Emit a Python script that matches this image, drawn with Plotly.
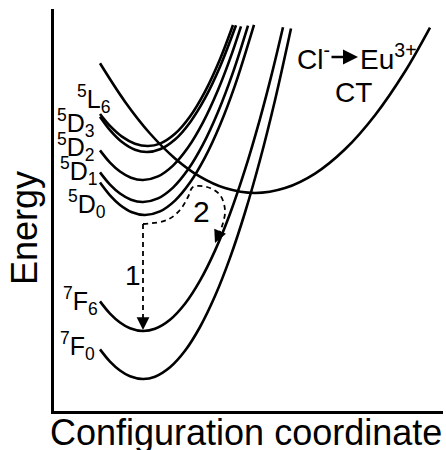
import plotly.graph_objects as go

# Configuration coordinate (X) and energy (E), arbitrary units
f0_x = [46, 56, 66, 76, 89, 101, 116, 131, 146, 161, 176, 191, 206, 221, 237]
f0_e = [61.6, 49.4, 40.5, 34.7, 32, 34.3, 43.7, 60.2, 84, 114.9, 153.1, 198.5, 251, 310.8, 382.5]
f6_x = [46, 56, 66, 76, 89, 101, 116, 131, 146, 161, 176, 191, 206, 218, 229]
f6_e = [109.6, 97.4, 88.5, 82.7, 80, 82.2, 91.3, 107.3, 130.4, 160.4, 197.3, 241.3, 292.2, 337.9, 383.8]
d0_x = [46, 56, 66, 78, 91, 106, 121, 136, 151, 166, 181, 200]
d0_e = [228.4, 215.6, 206, 198.7, 196, 199.6, 210.4, 228.4, 253.6, 286, 325.6, 386.1]
d1_x = [46, 56, 66, 77, 89, 104, 119, 134, 149, 164, 179, 194]
d1_e = [238.6, 226.4, 217.5, 211.3, 209, 212.6, 223.4, 241.4, 266.6, 299, 338.6, 385.4]
d2_x = [46, 56, 66, 77, 89, 104, 119, 134, 149, 164, 176, 187]
d2_e = [260.6, 248.4, 239.5, 233.3, 231, 234.6, 245.4, 263.4, 288.6, 321, 352.1, 384.7]
d3_x = [46, 56, 68, 81, 93, 106, 121, 136, 151, 166, 182]
d3_e = [294.3, 280.9, 269, 261.3, 259, 261.7, 271.5, 288.6, 312.8, 344.3, 385.7]
l6_x = [46, 56, 68, 81, 94, 106, 121, 136, 151, 166, 179]
l6_e = [297, 285.1, 274.4, 267.3, 265, 267.4, 277.2, 294.5, 319.4, 351.8, 386]
ct_x = [46, 71, 96, 121, 146, 171, 201, 231, 261, 291, 321, 351, 376]
ct_e = [347.7, 309.3, 277.5, 252.6, 234.3, 222.9, 218, 222.9, 237.4, 261.7, 295.8, 339.5, 383.4]

# Transition paths (dashed)
p1_x = [89, 89]
p1_e = [187, 88]
p2_x = [89, 113, 126, 134, 139, 153, 166, 171, 169, 164]
p2_e = [187, 191, 201, 214, 224, 224, 216, 201, 188, 175]

# Level labels: (text, x, E)
level_labels = ["<sup>5</sup>L<sub>6</sub>", "<sup>5</sup>D<sub>3</sub>", "<sup>5</sup>D<sub>2</sub>",
                "<sup>5</sup>D<sub>1</sub>", "<sup>5</sup>D<sub>0</sub>",
                "<sup>7</sup>F<sub>6</sub>", "<sup>7</sup>F<sub>0</sub>"]
level_label_x = [58, 43, 43, 46, 54, 46, 43]
level_label_e = [312, 288, 264, 240, 207, 110, 65]

FONT = "Liberation Sans, Arial, sans-serif"

fig = go.Figure()
for xs, es in [(f0_x, f0_e), (f6_x, f6_e), (d0_x, d0_e), (d1_x, d1_e), (d2_x, d2_e),
               (d3_x, d3_e), (l6_x, l6_e), (ct_x, ct_e)]:
    fig.add_trace(go.Scatter(x=xs, y=es, mode="lines",
                             line=dict(color="black", width=2.6, shape="spline", smoothing=1.0),
                             showlegend=False, hoverinfo="skip"))
for xs, es in [(p1_x, p1_e), (p2_x, p2_e)]:
    fig.add_trace(go.Scatter(x=xs, y=es, mode="lines",
                             line=dict(color="black", width=1.8, dash="5px,4px", shape="spline"),
                             showlegend=False, hoverinfo="skip"))

ann = []
for t, x, e in zip(level_labels, level_label_x, level_label_e):
    ann.append(dict(text=t, x=x, y=e, xref="x", yref="y", xanchor="right", yanchor="middle",
                    showarrow=False, font=dict(family=FONT, size=25, color="black")))
# arrow heads for dashed transitions
ann.append(dict(text="", x=89, y=81, ax=89, ay=91, xref="x", yref="y", axref="x", ayref="y",
                showarrow=True, arrowhead=2, arrowsize=1.6, arrowwidth=1.6, arrowcolor="black", standoff=0))
ann.append(dict(text="", x=161, y=168, ax=164.5, ay=176, xref="x", yref="y", axref="x", ayref="y",
                showarrow=True, arrowhead=2, arrowsize=1.6, arrowwidth=1.6, arrowcolor="black", standoff=0))
ann.append(dict(text="1", x=79, y=136, xref="x", yref="y", showarrow=False,
                font=dict(family=FONT, size=28, color="black")))
ann.append(dict(text="2", x=147, y=200, xref="x", yref="y", showarrow=False,
                font=dict(family=FONT, size=30, color="black")))
# CT label
ann.append(dict(text="Cl<sup>-</sup>", x=241, y=354, xref="x", yref="y", xanchor="left", yanchor="middle",
                showarrow=False, font=dict(family=FONT, size=28, color="black")))
ann.append(dict(text="", x=304, y=354, ax=276, ay=354, xref="x", yref="y", axref="x", ayref="y",
                showarrow=True, arrowhead=2, arrowsize=1.2, arrowwidth=2.5, arrowcolor="black", standoff=0))
ann.append(dict(text="Eu<sup>3+</sup>", x=304, y=354, xref="x", yref="y", xanchor="left", yanchor="middle",
                showarrow=False, font=dict(family=FONT, size=28, color="black")))
ann.append(dict(text="CT", x=299, y=319, xref="x", yref="y", showarrow=False,
                font=dict(family=FONT, size=28, color="black")))
# axis titles (positions given in picture pixels, converted to paper coords below)
ann.append(dict(text="Energy", x=24, y=228, xref="paper", yref="paper", xanchor="center", yanchor="middle",
                showarrow=False, textangle=-90, font=dict(family=FONT, size=36, color="black")))
ann.append(dict(text="Configuration coordinate", x=246, y=432, xref="paper", yref="paper",
                xanchor="center", yanchor="middle",
                showarrow=False, font=dict(family=FONT, size=36, color="black")))

W, H = 446, 450
ML, MR, MT, MB = 54, 3, 9, 39
pw, ph = W - ML - MR, H - MT - MB
for a in ann:
    if a.get("xref") == "paper":
        a["x"] = (a["x"] - ML) / pw
        a["y"] = (H - MB - a["y"]) / ph

fig.update_layout(
    width=W, height=H, margin=dict(l=ML, r=MR, t=MT, b=MB),
    paper_bgcolor="white", plot_bgcolor="white",
    xaxis=dict(range=[0, pw], showline=True, linecolor="black", linewidth=2.5, showgrid=False,
               zeroline=False, showticklabels=False, ticks="", fixedrange=True),
    yaxis=dict(range=[0, ph], showline=True, linecolor="black", linewidth=2.5, showgrid=False,
               zeroline=False, showticklabels=False, ticks="", fixedrange=True),
    annotations=ann,
)
fig.write_html("out.html", config={"displayModeBar": False})
